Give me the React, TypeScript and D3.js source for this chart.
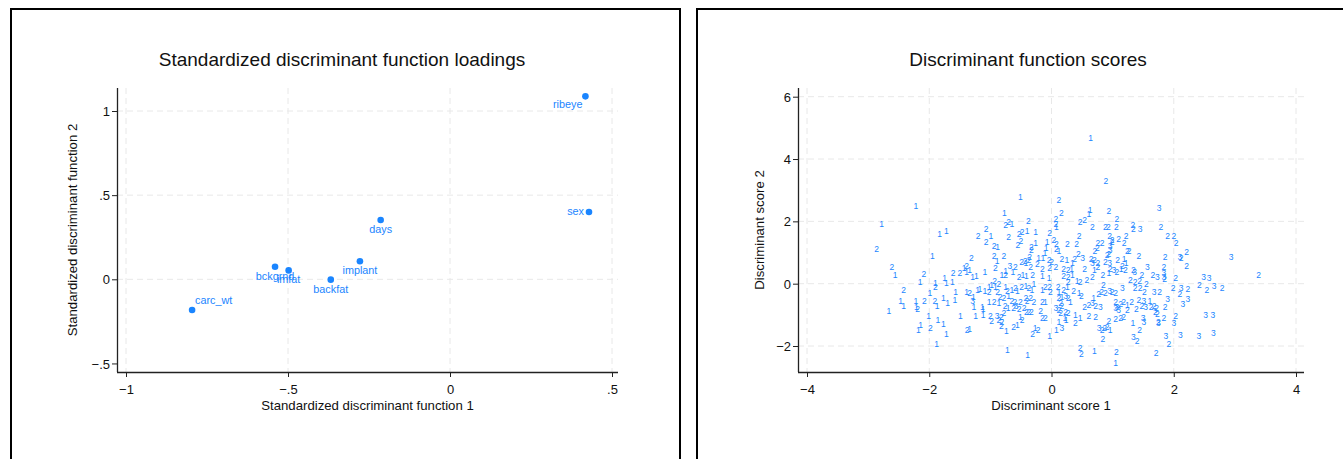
import * as d3 from "d3";
import { useEffect, useRef } from "react";

// standardized loadings (function 1, function 2)
const loadingNames = ["ribeye", "sex", "days", "implant", "backfat", "bckgrnd", "imfat", "carc_wt"];
const loadingFn1 = [0.418, 0.429, -0.214, -0.278, -0.368, -0.54, -0.498, -0.796];
const loadingFn2 = [1.087, 0.4, 0.352, 0.107, -0.002, 0.075, 0.053, -0.182];
// label clock positions
const labelPos = { ribeye: 7, sex: 9, days: 6, implant: 6, backfat: 6, bckgrnd: 6, imfat: 6, carc_wt: 1 };

const loadXTicks = [-1, -0.5, 0, 0.5];
const loadYTicks = [-0.5, 0, 0.5, 1];
const scoreXTicks = [-4, -2, 0, 2, 4];
const scoreYTicks = [-2, 0, 2, 4, 6];

// discriminant scores by group
const scores1 = [
  [0.64, 4.67], [-0.51, 2.79], [-2.22, 2.5], [-2.78, 1.91], [-0.77, 2.28], [-0.65, 1.91], [-1.83, 1.59], [-1.72, 1.69],
  [-0.99, 1.54], [-0.88, 1.18], [-0.89, 0.74], [-1.95, 0.89], [-2.56, 0.28], [-1.75, 0.19], [-1.43, 0.49], [-1.39, 0.38],
  [-1.34, 0.44], [-1.29, 0.22], [-1.23, 0.24], [-1.09, 0.38], [-0.75, 0.41], [-0.63, 0.36], [0.63, 2.36], [0.61, 2.22],
  [0.08, 1.81], [-0.4, 1.69], [-0.26, 1.65], [-0.26, 1.31], [-0.07, 1.33], [-0.09, 1.13], [-0.11, 1.0], [0.12, 1.05],
  [-0.21, 0.83], [-0.14, 0.83], [0.25, 0.76], [0.34, 0.67], [1.19, 0.78], [1.22, 0.65], [-0.42, 0.65], [0.33, 0.46],
  [0.7, 0.44], [1.14, 0.46], [-0.81, 0.28], [-0.47, 0.28], [-0.41, 0.24], [-0.15, 0.24], [-0.04, 0.17], [0.34, 0.28],
  [0.94, 0.33], [-2.15, 0.04], [-1.9, 0.02], [-1.72, 0.01], [-1.99, -0.29], [-1.57, -0.28], [-1.62, 0.06], [-1.39, -0.26],
  [-1.28, -0.42], [-1.21, -0.21], [-1.17, -0.17], [-1.09, -0.24], [-1.02, -0.1], [-0.98, -0.04], [-0.92, -0.1], [-2.47, -0.56],
  [-2.42, -0.71], [-2.22, -0.56], [-2.21, -0.74], [-2.66, -0.87], [-1.87, -0.72], [-1.77, -0.47], [-1.7, -0.63], [-1.58, -0.53],
  [-1.27, -0.74], [-1.13, -0.74], [-1.12, -0.82], [-1.02, -0.6], [-0.86, -0.63], [-2.01, -1.04], [-1.49, -1.03], [-1.24, -1.03],
  [-1.12, -1.01], [-1.86, -1.17], [-1.77, -1.31], [-2.14, -1.33], [-2.18, -1.49], [-1.72, -1.62], [-1.34, -1.47], [-1.88, -1.94],
  [-0.75, -0.1], [-0.65, -0.21], [-0.56, -0.24], [-0.42, -0.08], [-0.32, -0.21], [-0.29, -0.02], [-0.15, -0.21], [0.12, -0.26],
  [0.26, -0.1], [0.45, -0.31], [0.42, 0.08], [0.69, -0.45], [-0.7, -0.39], [-0.1, -0.58], [0.17, -0.42], [0.31, -0.58],
  [1.24, -0.69], [-0.71, -0.77], [0.39, -0.99], [0.47, -1.09], [0.22, -1.09], [0.24, -1.17], [-0.51, -1.06], [0.12, -1.22],
  [0.08, -1.49], [-0.56, -1.33], [-0.74, -1.52], [-0.27, -1.42], [-0.03, -1.68], [0.96, -1.49], [-0.72, -2.13], [-0.39, -2.29],
  [0.7, -2.16], [1.05, -2.56], [1.61, -0.56], [1.33, -1.27],
];
const scores2 = [
  [-0.75, 1.88], [-0.7, 1.99], [-0.38, 2.01], [-1.07, 1.75], [-1.2, 1.54], [-1.07, 1.34], [-0.94, 1.22], [-1.31, 0.81],
  [-0.94, 0.89], [-0.92, 0.49], [-2.86, 1.11], [-2.61, 0.54], [-2.09, 0.3], [-1.61, 0.33], [-1.5, 0.33], [-1.39, 0.56],
  [-0.59, 0.52], [-0.49, 0.7], [-0.43, 0.74], [-0.36, 0.84], [0.89, 3.3], [0.12, 2.68], [0.16, 2.28], [0.94, 2.33],
  [1.07, 2.07], [0.07, 2.06], [0.07, 1.9], [0.47, 1.97], [0.54, 2.04], [0.67, 1.83], [0.88, 1.83], [0.93, 1.83],
  [1.06, 1.83], [1.33, 1.88], [-0.7, 1.51], [-0.53, 1.59], [-0.48, 1.67], [-0.03, 1.63], [0.45, 1.53], [0.95, 1.54],
  [0.99, 1.4], [1.1, 1.43], [1.22, 1.54], [-0.5, 1.37], [0.04, 1.4], [0.08, 1.27], [0.26, 1.26], [0.41, 1.26],
  [0.76, 1.29], [0.83, 1.31], [0.99, 1.33], [1.19, 1.31], [-0.55, 1.24], [-0.33, 1.17], [-0.33, 1.08], [0.08, 1.11],
  [0.71, 1.06], [0.75, 1.13], [0.94, 0.95], [0.91, 0.92], [1.24, 1.06], [1.27, 1.06], [-0.78, 0.89], [0.44, 0.95],
  [-0.04, 0.76], [0.0, 0.68], [0.17, 0.78], [0.38, 0.78], [0.65, 0.78], [0.7, 0.76], [0.88, 0.7], [0.76, 0.65],
  [1.08, 0.76], [1.16, 0.56], [-0.37, 0.76], [-0.34, 0.54], [-0.23, 0.62], [-0.15, 0.46], [-0.03, 0.49], [0.07, 0.52],
  [0.2, 0.46], [0.27, 0.44], [0.54, 0.46], [0.76, 0.52], [0.96, 0.46], [1.21, 0.44], [1.07, 0.38], [1.34, 0.44],
  [-0.75, 0.28], [-0.53, 0.22], [-0.31, 0.28], [0.2, 0.24], [0.27, 0.22], [0.67, 0.22], [0.84, 0.28], [-2.42, -0.21],
  [-1.9, -0.11], [-1.34, -0.31], [-1.02, -0.26], [-0.93, 0.08], [-0.88, -0.26], [-0.86, -0.02], [-2.08, -0.55], [-2.19, -0.8],
  [-1.91, -0.55], [-0.94, -0.58], [-0.84, -0.42], [-1.0, -1.03], [-0.98, -1.2], [-0.86, -1.17], [-1.98, -1.43], [-1.38, -1.49],
  [-0.72, -0.24], [-0.59, -0.15], [-0.49, -0.1], [-0.37, -0.15], [-0.1, -0.1], [-0.03, -0.1], [-0.02, -0.26], [0.11, -0.1],
  [0.2, -0.21], [0.27, 0.06], [0.36, -0.24], [0.49, -0.39], [0.47, 0.04], [0.58, 0.12], [0.85, -0.04], [0.82, -0.26],
  [0.88, -0.31], [0.99, -0.27], [1.05, -0.31], [0.77, -0.34], [-0.78, -0.45], [-0.65, -0.56], [-0.6, -0.58], [-0.51, -0.6],
  [-0.42, -0.47], [-0.4, -0.56], [-0.34, -0.47], [-0.29, -0.6], [-0.15, -0.58], [0.12, -0.47], [0.27, -0.47], [0.15, -0.63],
  [0.17, -0.71], [0.54, -0.74], [0.61, -0.69], [0.72, -0.71], [1.05, -0.58], [1.13, -0.66], [1.18, -0.58], [1.31, -0.58],
  [1.24, -0.85], [-0.76, -0.71], [-0.62, -0.79], [-0.53, -0.82], [-0.45, -0.79], [-0.41, -0.9], [-0.37, -0.92], [-0.33, -0.92],
  [-0.18, -0.88], [0.12, -0.85], [0.15, -0.95], [0.23, -0.9], [0.27, -0.95], [0.61, -1.03], [0.72, -1.06], [-0.15, -1.09],
  [-0.1, -1.09], [-0.82, -1.06], [-0.78, -0.95], [-0.81, -1.22], [-0.82, -1.35], [-0.48, -1.17], [0.39, -1.27], [0.94, -1.2],
  [1.05, -1.14], [1.13, -1.11], [1.18, -1.06], [-0.62, -1.38], [-0.22, -1.49], [-0.31, -1.6], [0.83, -1.49], [0.87, -1.42],
  [0.91, -1.38], [0.84, -1.78], [0.47, -2.06], [0.49, -2.27], [1.06, -2.19], [3.39, 0.28], [1.34, 1.74], [1.79, 1.83],
  [1.9, 1.53], [2.0, 1.53], [2.04, 1.29], [1.43, 0.89], [1.86, 0.84], [2.12, 0.81], [2.21, 1.02], [2.21, 0.56],
  [1.84, 0.52], [1.48, 0.28], [1.66, 0.28], [1.85, 0.15], [2.03, 0.17], [1.99, -0.13], [2.23, -0.17], [2.42, -0.04],
  [2.54, -0.21], [2.79, -0.15], [2.1, -0.34], [1.29, 0.12], [1.37, 0.06], [1.44, 0.08], [1.55, -0.02], [1.45, -0.13],
  [1.37, -0.13], [1.52, -0.28], [1.77, -0.26], [1.43, -0.53], [1.63, -0.74], [1.48, -0.71], [1.39, -0.82], [1.68, -0.71],
  [1.72, -0.79], [1.7, -0.9], [1.73, -0.98], [1.86, -0.74], [2.03, -1.03], [1.75, -1.22], [1.84, -1.11], [1.44, -1.49],
  [1.4, -1.83], [1.92, -1.95], [1.71, -2.22],
];
const scores3 = [
  [-0.68, 0.57], [0.96, 1.22], [0.96, 1.08], [0.51, 0.83], [0.67, 0.67], [0.95, 0.65], [1.02, 0.44], [-1.29, -0.56],
  [-0.89, -1.03], [0.95, -0.24], [1.16, -0.13], [0.23, -0.39], [0.67, -0.63], [0.8, -0.74], [1.07, -0.74], [1.05, -0.79],
  [1.1, -0.85], [-0.58, -0.71], [0.07, -0.77], [0.17, -1.43], [0.78, -1.43], [1.34, -1.7], [1.76, 2.42], [1.45, 1.74],
  [2.1, 0.86], [2.94, 0.86], [1.57, 0.52], [1.36, 0.38], [1.73, 0.22], [1.84, 0.33], [1.84, 0.2], [2.49, 0.22],
  [2.58, 0.17], [2.12, -0.15], [2.66, -0.07], [2.23, -0.49], [2.15, -0.66], [1.68, -0.26], [1.9, -0.49], [1.51, -0.56],
  [1.54, -0.74], [2.52, -1.01], [2.64, -1.01], [1.5, -1.09], [1.51, -1.22], [1.75, -1.27], [2.0, -1.27], [1.87, -1.68],
  [2.11, -1.65], [2.41, -1.68], [2.65, -1.58],
];

const BLUE = "#1a85ff";
const FONT = "'Liberation Sans', Arial, Helvetica, sans-serif";
const fmt = (v) => (v === 0 ? "0" : (v < 0 ? "\u2212" : "") + String(Math.abs(v)).replace(/^0\./, "."));

function drawFrame(svg, o) {
  const { left, right, top, bottom, x, y, xTicks, yTicks, hGrid, vGrid, title, xTitle, yTitle, yTitleX, cx } = o;
  const g = svg.append("g");

  // grid
  g.selectAll(".hg").data(hGrid).join("line")
    .attr("x1", left).attr("x2", right).attr("y1", (d) => y(d)).attr("y2", (d) => y(d))
    .attr("stroke", "#e8e8e8").attr("stroke-dasharray", "6,4");
  g.selectAll(".vg").data(vGrid).join("line")
    .attr("x1", (d) => x(d)).attr("x2", (d) => x(d)).attr("y1", top).attr("y2", bottom)
    .attr("stroke", "#e8e8e8").attr("stroke-dasharray", "6,4");

  // axes
  const xa = g.append("g").attr("transform", `translate(0,${bottom})`)
    .call(d3.axisBottom(x).tickValues(xTicks).tickSize(5).tickSizeOuter(0).tickFormat(fmt));
  xa.select(".domain").attr("d", `M${left},0.5H${right}`);
  const ya = g.append("g").attr("transform", `translate(${left},0)`)
    .call(d3.axisLeft(y).tickValues(yTicks).tickSize(5).tickSizeOuter(0).tickFormat(fmt));
  ya.select(".domain").attr("d", `M0.5,${top}V${bottom}`);
  [xa, ya].forEach((a) => {
    a.select(".domain").attr("stroke", "#222").attr("stroke-width", 1.3);
    a.selectAll(".tick line").attr("stroke", "#222");
    a.selectAll("text").attr("font-family", FONT).attr("font-size", 13).attr("fill", "#111");
  });
  xa.selectAll("text").attr("dy", "1.05em");
  ya.selectAll("text").attr("x", -7).attr("dy", "0.35em");

  g.append("text").attr("x", cx).attr("y", 66).attr("text-anchor", "middle")
    .attr("font-family", FONT).attr("font-size", 19).attr("fill", "#111").text(title);
  g.append("text").attr("x", (left + right) / 2).attr("y", 410).attr("text-anchor", "middle")
    .attr("font-family", FONT).attr("font-size", 13.2).attr("fill", "#111").text(xTitle);
  g.append("text").attr("transform", `translate(${yTitleX},${(top + bottom) / 2}) rotate(-90)`)
    .attr("text-anchor", "middle").attr("font-family", FONT).attr("font-size", 13.2).attr("fill", "#111").text(yTitle);
}

function LoadingsScores() {
  const ref = useRef(null);

  useEffect(() => {
    const svg = d3.select(ref.current);
    svg.selectAll("*").remove();

    // panel frames
    svg.append("rect").attr("x", 11).attr("y", 9).attr("width", 669).attr("height", 520)
      .attr("fill", "white").attr("stroke", "black").attr("stroke-width", 2);
    svg.append("rect").attr("x", 697).attr("y", 9).attr("width", 669).attr("height", 520)
      .attr("fill", "white").attr("stroke", "black").attr("stroke-width", 2);

    // left panel: loadings
    const lx = d3.scaleLinear().domain([-1, 0.5]).range([126, 612]);
    const ly = d3.scaleLinear().domain([0, 1]).range([279.3, 111]);
    drawFrame(svg, {
      left: 117, right: 618, top: 88, bottom: 372, x: lx, y: ly,
      xTicks: loadXTicks, yTicks: loadYTicks, hGrid: [0, 0.5, 1], vGrid: loadXTicks,
      title: "Standardized discriminant function loadings",
      xTitle: "Standardized discriminant function 1",
      yTitle: "Standardized discriminant function 2", yTitleX: 77, cx: 342,
    });
    const pts = loadingNames.map((n, i) => ({ n, x: loadingFn1[i], y: loadingFn2[i] }));
    svg.append("g").selectAll("circle").data(pts).join("circle")
      .attr("cx", (d) => lx(d.x)).attr("cy", (d) => ly(d.y)).attr("r", 3.3).attr("fill", BLUE);
    svg.append("g").selectAll("text").data(pts).join("text")
      .attr("font-family", FONT).attr("font-size", 10.8).attr("fill", BLUE)
      .each(function (d) {
        const px = lx(d.x), py = ly(d.y);
        const t = d3.select(this).text(d.n);
        const pos = labelPos[d.n];
        if (pos === 6) t.attr("x", px).attr("y", py + 13).attr("text-anchor", "middle");
        else if (pos === 7) t.attr("x", px - 3).attr("y", py + 12).attr("text-anchor", "end");
        else if (pos === 9) t.attr("x", px - 5).attr("y", py + 3.5).attr("text-anchor", "end");
        else t.attr("x", px + 3).attr("y", py - 6).attr("text-anchor", "start");
      });

    // right panel: scores
    const sx = d3.scaleLinear().domain([-4, 4]).range([807, 1296]);
    const sy = d3.scaleLinear().domain([-2, 6]).range([346, 96.7]);
    drawFrame(svg, {
      left: 798, right: 1304, top: 88, bottom: 372, x: sx, y: sy,
      xTicks: scoreXTicks, yTicks: scoreYTicks, hGrid: scoreYTicks, vGrid: scoreXTicks,
      title: "Discriminant function scores",
      xTitle: "Discriminant score 1",
      yTitle: "Discriminant score 2", yTitleX: 764, cx: 1028,
    });
    const groups = [
      { label: "1", data: scores1 },
      { label: "2", data: scores2 },
      { label: "3", data: scores3 },
    ];
    const sg = svg.append("g");
    groups.forEach((grp) => {
      sg.append("g").selectAll("text").data(grp.data).join("text")
        .attr("x", (d) => sx(d[0])).attr("y", (d) => sy(d[1]) + 3)
        .attr("text-anchor", "middle").attr("font-family", FONT).attr("font-size", 8.5)
        .attr("fill", BLUE).text(grp.label);
    });
  }, []);

  return (
    <svg ref={ref} width={1343} height={459}
      style={{ position: "absolute", left: 0, top: 0, background: "white" }} />
  );
}

export default function App() {
  return <LoadingsScores />;
}
